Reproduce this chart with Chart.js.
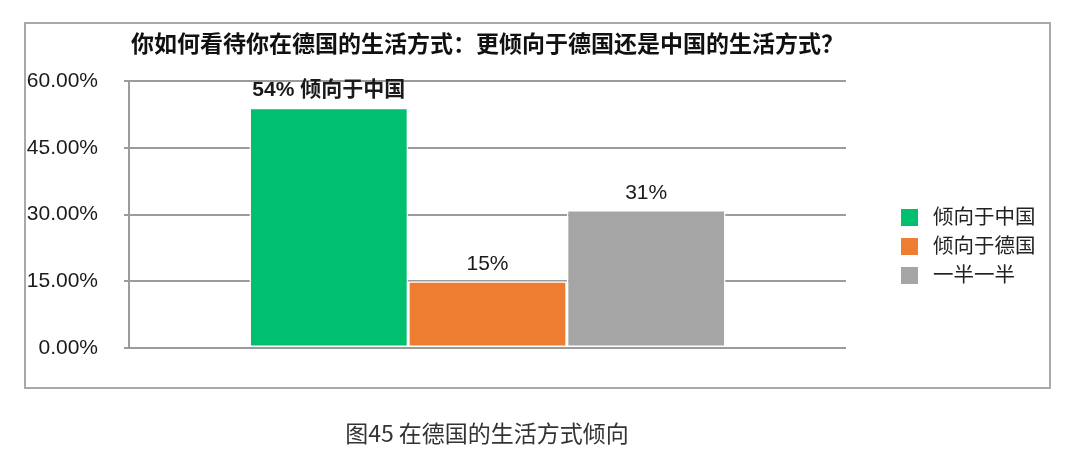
<!DOCTYPE html>
<html>
<head>
<meta charset="utf-8">
<script src="https://cdn.jsdelivr.net/npm/chart.js@4.4.1/dist/chart.umd.min.js"></script>
<style>
  html, body { margin: 0; padding: 0; background: #fff; }
  #wrap { position: relative; width: 1080px; height: 466px; }
  #frame {
    position: absolute; left: 24px; top: 22px; width: 1027px; height: 367px;
    box-sizing: border-box; border: 2px solid #a9a9a9; pointer-events: none;
  }
  #caption {
    position: absolute; left: 0; top: 417px; width: 974px; text-align: center;
    font-family: "Noto Sans CJK SC", sans-serif; font-size: 23px; color: #333; line-height: 30px;
  }
</style>
</head>
<body>
<div id="wrap">
  <canvas id="lifeChart" width="1080" height="466"></canvas>
  <div id="frame"></div>
  <div id="caption">图45 在德国的生活方式倾向</div>
</div>
<script>
// chart data
const seriesNames = ['倾向于中国', '倾向于德国', '一半一半'];
const seriesValues = [54, 15, 31];
const seriesColors = ['#00BF6F', '#ED7D31', '#A5A5A5'];
const valueLabels = ['54% 倾向于中国', '15%', '31%'];
const yTicks = [0, 15, 30, 45, 60];

const FONT = '"Liberation Sans", "Noto Sans CJK SC", sans-serif';

// labels above the bars
const barLabels = {
    id: 'barLabels',
    afterDatasetsDraw(chart) {
        const ctx = chart.ctx;
        ctx.save();
        ctx.textAlign = 'center';
        ctx.textBaseline = 'middle';
        ctx.fillStyle = '#1a1a1a';
        chart.data.datasets.forEach((ds, i) => {
            const bar = chart.getDatasetMeta(i).data[0];
            ctx.font = (i === 0 ? 'bold ' : '') + '21px ' + FONT;
            ctx.fillText(valueLabels[i], bar.x, bar.y - 17);
        });
        ctx.restore();
    }
};

// legend on the right, drawn from the datasets
const sideLegend = {
    id: 'sideLegend',
    afterDraw(chart) {
        const ctx = chart.ctx;
        ctx.save();
        ctx.textBaseline = 'middle';
        ctx.font = '20.5px ' + FONT;
        chart.data.datasets.forEach((ds, i) => {
            const cy = 217 + i * 29;
            ctx.fillStyle = ds.backgroundColor;
            ctx.fillRect(901, cy - 8, 17, 17);
            ctx.fillStyle = '#222';
            ctx.fillText(ds.label, 933, cy + 1);
        });
        ctx.restore();
    }
};

const ctx = document.getElementById('lifeChart').getContext('2d');

new Chart(ctx, {
    type: 'bar',
    data: {
        labels: [''],
        datasets: seriesNames.map((name, i) => ({
            label: name,
            data: [seriesValues[i]],
            backgroundColor: seriesColors[i],
            borderColor: '#ffffff',
            borderWidth: 1.5,
            borderSkipped: false
        }))
    },
    options: {
        responsive: false,
        animation: false,
        devicePixelRatio: 1,
        layout: { padding: { left: 27, right: 234, top: 0, bottom: 118 } },
        datasets: { bar: { categoryPercentage: 0.664, barPercentage: 1.0 } },
        plugins: {
            legend: { display: false },
            tooltip: { enabled: false },
            title: {
                display: true,
                fullSize: false,
                text: '你如何看待你在德国的生活方式：更倾向于德国还是中国的生活方式？',
                color: '#111',
                font: { family: FONT, size: 23, weight: 'bold', lineHeight: 1.2 },
                padding: { top: 31.5, bottom: 21.9 }
            }
        },
        scales: {
            x: { display: false },
            y: {
                min: yTicks[0],
                max: yTicks[yTicks.length - 1],
                afterFit: (scale) => { scale.width = 102; },
                afterBuildTicks: (scale) => { scale.ticks = yTicks.map(v => ({ value: v })); },
                ticks: {
                    padding: 26,
                    color: '#1a1a1a',
                    font: { family: FONT, size: 21 },
                    callback: (v) => v.toFixed(2) + '%'
                },
                grid: { color: '#9b9b9b', lineWidth: 2, tickLength: 5 },
                border: { color: '#9b9b9b', width: 2 }
            }
        }
    },
    plugins: [barLabels, sideLegend]
});
</script>
</body>
</html>
